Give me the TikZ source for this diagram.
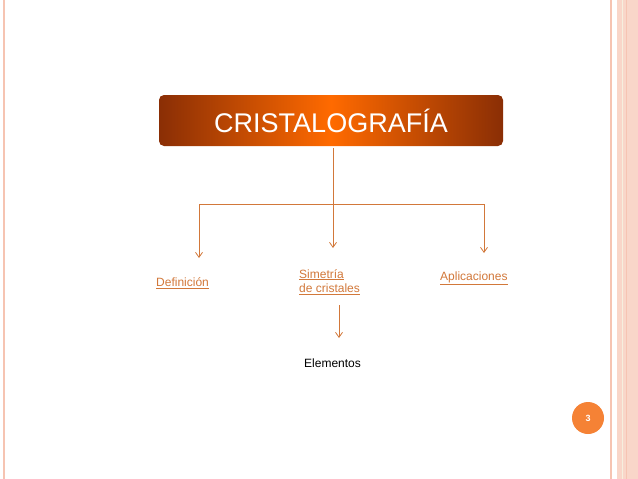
\documentclass[tikz,border=0pt]{standalone}
\usepackage{fontspec}
\setmainfont{Liberation Sans}
\usetikzlibrary{arrows.meta}
\definecolor{lnk}{HTML}{D2783A}
\definecolor{brd}{HTML}{F6C4B2}
\definecolor{dk}{HTML}{8A2E05}
\definecolor{orng}{HTML}{FF6A00}
\definecolor{circ}{HTML}{F58235}
\tikzset{
  conn/.style={draw=lnk, line width=0.8pt},
  arr/.style={conn, -{Straight Barb[length=5pt,width=7pt]}},
  lbl/.style={text=lnk, font=\fontsize{12}{14.5}\selectfont, inner sep=0pt, align=left},
}
\newcommand{\ul}[1]{\underline{#1}}
\begin{document}
\begin{tikzpicture}[x=1pt,y=-1pt]
\useasboundingbox (0,0) rectangle (638,479);
\fill[white] (0,0) rectangle (638,479);
% borders
\draw[brd, line width=1.5pt] (4,0) -- (4,479);
\draw[brd, line width=1.5pt] (611,0) -- (611,479);
\fill[brd!70] (617,0) rectangle (638,479);
\draw[brd!120!red!80, line width=0.6pt] (622,0) -- (622,479);
\draw[brd, line width=1pt] (626,0) -- (626,479);
% title
\node (title) [rounded corners=5pt, minimum width=344pt, minimum height=51pt,
  left color=dk, right color=dk, middle color=orng, text=white,
  font=\fontsize{27}{30}\selectfont] at (331,120.5) {CRISTALOGRAFÍA};
\coordinate (j) at (333,204);
\coordinate (l) at (199,204);
\coordinate (r) at (484,204);
\coordinate (lt) at (199,258);
\coordinate (mt) at (333,248);
\coordinate (rt) at (484,253);
\draw[conn] (333,148) -- (j);
\draw[conn] (l) -- (r);
\draw[arr] (l) -- (lt);
\draw[arr] (j) -- (mt);
\draw[arr] (r) -- (rt);
\node (def) [lbl, anchor=west] at (156,283) {\ul{Definición}};
\node (sim) [lbl, anchor=west] at (299,282) {\ul{Simetría}\\\ul{de cristales}};
\node (apl) [lbl, anchor=west] at (440,278) {\ul{Aplicaciones}};
\node (ele) [lbl, text=black, anchor=west] at (304,363) {Elementos};
\coordinate (s1) at (339,305);
\coordinate (s2) at (339,338);
\draw[arr] (s1) -- (s2);
\node (pg) [circle, fill=circ, minimum size=32pt, inner sep=0pt, text=white,
  font=\bfseries\fontsize{9}{10}\selectfont] at (588,418) {3};
\end{tikzpicture}
\end{document}
